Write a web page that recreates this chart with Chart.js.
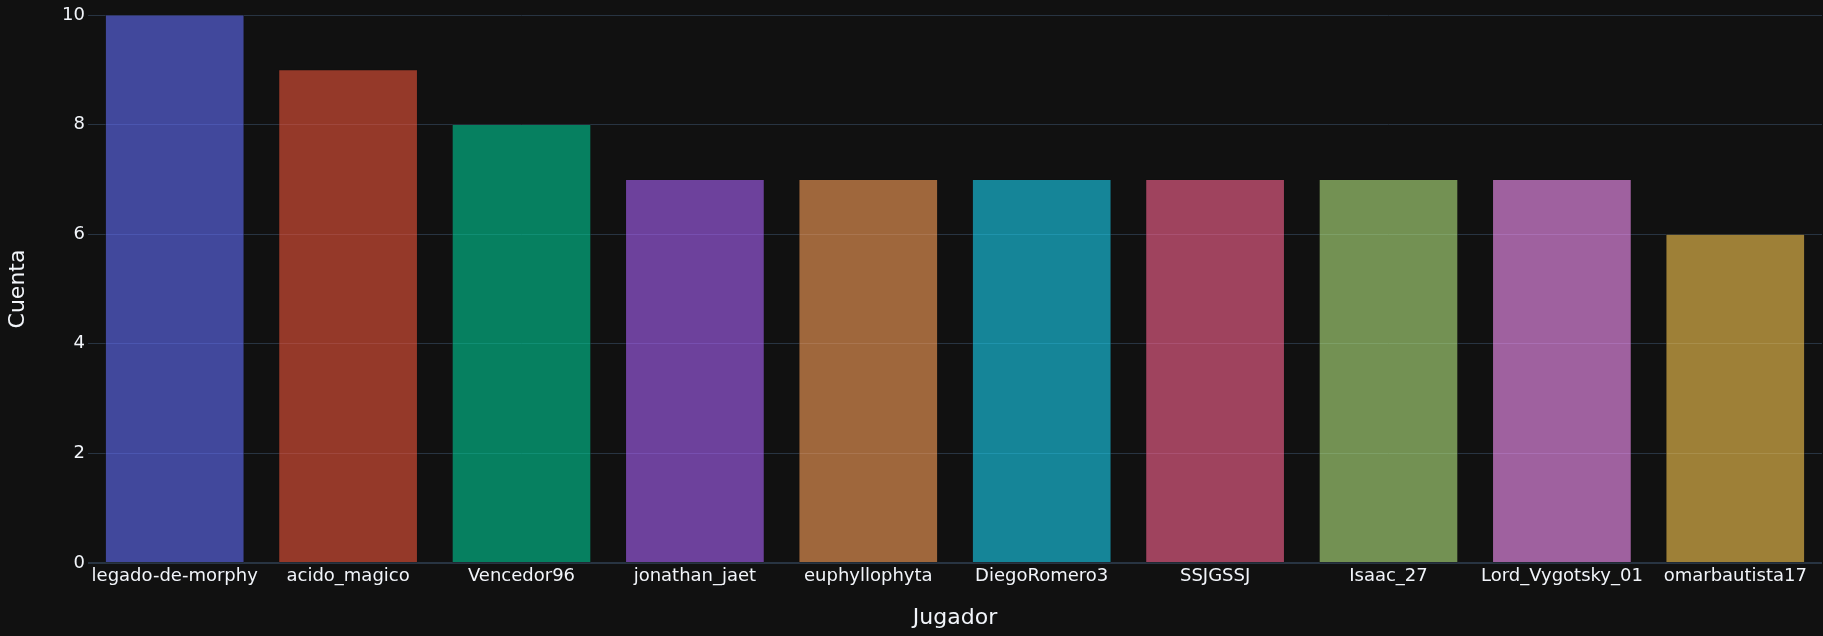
<!DOCTYPE html>
<html>
<head>
<meta charset="utf-8">
<script src="https://cdn.jsdelivr.net/npm/chart.js@4/dist/chart.umd.min.js"></script>
<style>
html,body{margin:0;padding:0;background:#111111;}
#wrap{width:1823px;height:636px;position:relative;}
</style>
</head>
<body>
<div id="wrap"><canvas id="c" width="1823" height="636"></canvas></div>
<script>
const players = ["legado-de-morphy","acido_magico","Vencedor96","jonathan_jaet","euphyllophyta","DiegoRomero3","SSJGSSJ","Isaac_27","Lord_Vygotsky_01","omarbautista17"];
const counts = [10, 9, 8, 7, 7, 7, 7, 7, 7, 6];
const yTicks = [0, 2, 4, 6, 8, 10];
const palette = ["#636efa","#EF553B","#00cc96","#ab63fa","#FFA15A","#19d3f3","#FF6692","#B6E880","#FF97FF","#FECB52"];

function withAlpha(hex, a){
  const r=parseInt(hex.slice(1,3),16),g=parseInt(hex.slice(3,5),16),b=parseInt(hex.slice(5,7),16);
  return `rgba(${r},${g},${b},${a})`;
}
const FONT = "'DejaVu Sans', Verdana, sans-serif";
const TXT = "#f2f5fa";
const GRID = "#283442";

const bgPlugin = {
  id:'bg',
  beforeDraw(chart){
    const c = chart.ctx; c.save(); c.fillStyle='#111111'; c.fillRect(0,0,chart.width,chart.height); c.restore();
  }
};
const zeroLine = {
  id:'zeroLine',
  beforeDatasetsDraw(chart){
    const y = chart.scales.y.getPixelForValue(0);
    const a = chart.chartArea; const c = chart.ctx;
    c.save(); c.strokeStyle=GRID; c.lineWidth=2;
    c.beginPath(); c.moveTo(a.left,y); c.lineTo(a.right,y); c.stroke(); c.restore();
  }
};

new Chart(document.getElementById('c'), {
  type:'bar',
  data:{
    labels: players,
    datasets:[{
      data: counts,
      backgroundColor: palette.map(c=>withAlpha(c,0.6)),
      borderColor: '#111111',
      borderWidth: 0.5,
      borderSkipped: false,
      categoryPercentage: 1.0,
      barPercentage: 0.8
    }]
  },
  options:{
    responsive:false,
    animation:false,
    devicePixelRatio:1,
    layout:{padding:{top:15,right:1,left:0,bottom:0}},
    plugins:{legend:{display:false},tooltip:{enabled:false}},
    scales:{
      x:{
        grid:{display:false, drawTicks:false},
        border:{display:false},
        ticks:{color:TXT,font:{family:FONT,size:18},padding:3,maxRotation:0,autoSkip:false},
        title:{display:true,text:'Jugador',color:TXT,font:{family:FONT,size:22},padding:{top:0,bottom:5}},
        afterFit(s){ s.height = 73; }
      },
      y:{
        min:0,max:10,
        afterBuildTicks(s){ s.ticks = yTicks.map(v=>({value:v})); },
        grid:{color:GRID,lineWidth:1,drawTicks:false},
        border:{display:false},
        ticks:{color:TXT,font:{family:FONT,size:18},padding:3},
        title:{display:true,text:'Cuenta',color:TXT,font:{family:FONT,size:22},padding:{top:5,bottom:0}},
        afterFit(s){ s.width = 88; }
      }
    }
  },
  plugins:[bgPlugin, zeroLine]
});
</script>
</body>
</html>
